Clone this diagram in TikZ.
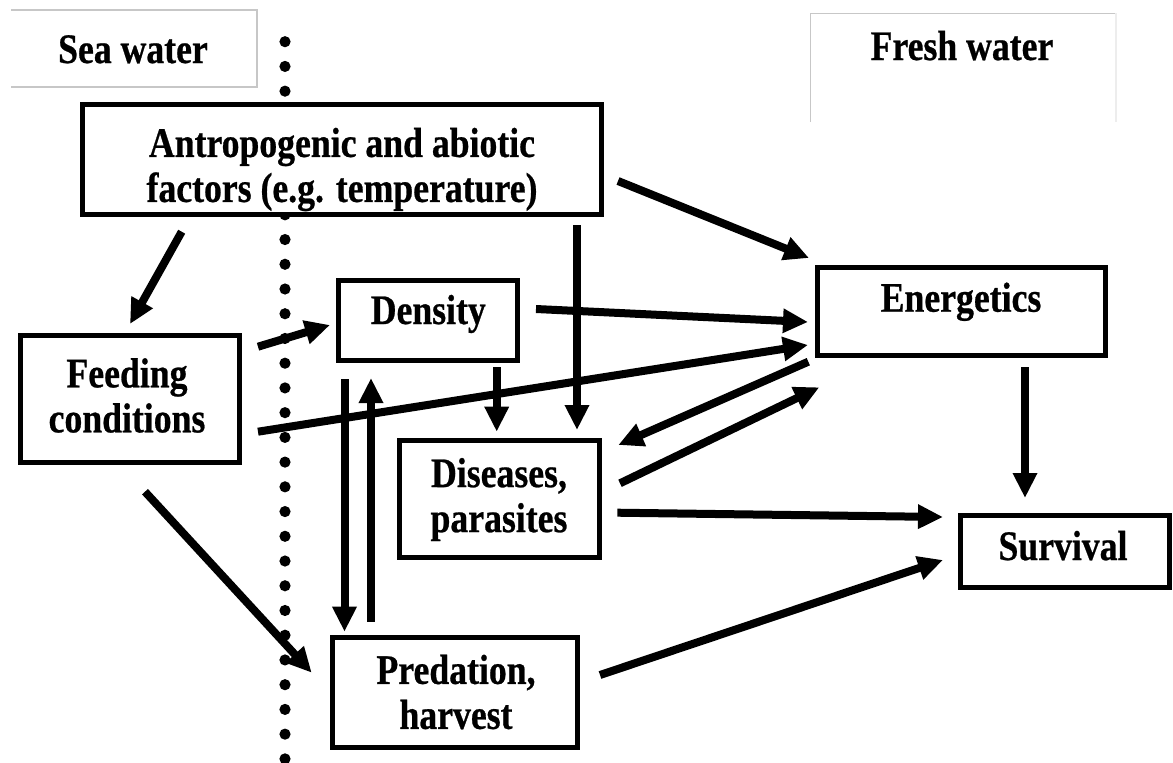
\documentclass[tikz,border=0pt]{standalone}
\usepackage{fontspec}
\setmainfont{Liberation Serif}[FakeStretch=0.85, BoldFeatures={FakeBold=0.6}]
\usetikzlibrary{arrows.meta}
\begin{document}
\begin{tikzpicture}[x=1pt,y=-1pt,
  box/.style={draw, line width=5pt, fill=white, inner sep=0pt},
  lbl/.style={font=\fontsize{42}{45}\selectfont\bfseries, align=center, inner sep=0pt},
  arr/.style={line width=8pt, -{Triangle[length=25pt,width=23pt]}},
  frame/.style={draw=black!22, line width=1.3pt}]
\useasboundingbox (0,0) rectangle (1173,763);
\fill[white] (0,0) rectangle (1173,763);

% dotted boundary between the two habitats
\foreach \k in {0,...,29} \fill (285,{41.7+24.73*\k}) circle (5.6pt);

% habitat headings
\draw[frame] (11,10) -- (257,10) -- (257,87) -- (11,87);
\draw[frame] (810.7,122) -- (810.7,13.3) -- (1116,13.3);
\draw[draw=black!7, line width=1.3pt] (1116,13.3) -- (1116,122);
\node[lbl, anchor=base] (sea) at (133,63) {Sea water};
\node[lbl, anchor=base] (fresh) at (962,60) {Fresh water};

% boxes
\node[box, minimum width=519pt, minimum height=110pt] (antbox) at (342,159.5) {};
\node[box, minimum width=179pt, minimum height=80pt] (denbox) at (428,320.4) {};
\node[box, minimum width=288pt, minimum height=88pt] (enbox) at (961.5,311.5) {};
\node[box, minimum width=219pt, minimum height=127pt] (feedbox) at (129.5,399) {};
\node[box, minimum width=200pt, minimum height=117pt] (disbox) at (499.2,499) {};
\node[box, minimum width=209pt, minimum height=72pt] (survbox) at (1065,551.5) {};
\node[box, minimum width=245pt, minimum height=110pt] (predbox) at (455,692.5) {};

% box texts
\node[lbl] (ant) at (342,169.5) {Antropogenic and abiotic\\factors (e.g. temperature)};
\node[lbl, anchor=base] (den) at (428.3,324) {Density};
\node[lbl, anchor=base] (en) at (961,311.7) {Energetics};
\node[lbl] (feed) at (127,395.5) {Feeding\\conditions};
\node[lbl] (dis) at (499,499.5) {Diseases,\\parasites};
\node[lbl, anchor=base] (surv) at (1063,560) {Survival};
\node[lbl] (pred) at (456,692) {Predation,\\harvest};

% arrow end points
\coordinate (antFa) at (181.7,231.7);  \coordinate (antFb) at (130,324);
\coordinate (antEa) at (618,181);      \coordinate (antEb) at (809,258);
\coordinate (antDa) at (577,225);      \coordinate (antDb) at (577,430);
\coordinate (feDa)  at (258,346.7);    \coordinate (feDb)  at (330,325);
\coordinate (deEa)  at (536,309);      \coordinate (deEb)  at (808,322);
\coordinate (feEa)  at (258,431.7);    \coordinate (feEb)  at (808,345);
\coordinate (deDa)  at (496.7,367);    \coordinate (deDb)  at (496.7,431.7);
\coordinate (dePa)  at (344.5,379);    \coordinate (dePb)  at (344.5,631.7);
\coordinate (prDa)  at (371,621.7);    \coordinate (prDb)  at (371,378);
\coordinate (enDa)  at (808.3,361.7);  \coordinate (enDb)  at (618.3,445);
\coordinate (diEa)  at (620,483.3);    \coordinate (diEb)  at (819.3,387.3);
\coordinate (diSa)  at (617.3,512.7);  \coordinate (diSb)  at (943,517);
\coordinate (enSa)  at (1025,367);     \coordinate (enSb)  at (1025,498);
\coordinate (prSa)  at (600,675);      \coordinate (prSb)  at (943,560);
\coordinate (fePa)  at (145,491.7);    \coordinate (fePb)  at (311.7,672.7);

% connectors
\draw[arr] (antFa) -- (antFb);
\draw[arr] (antEa) -- (antEb);
\draw[arr] (antDa) -- (antDb);
\draw[arr] (feDa) -- (feDb);
\draw[arr] (deEa) -- (deEb);
\draw[arr] (feEa) -- (feEb);
\draw[arr] (deDa) -- (deDb);
\draw[arr] (dePa) -- (dePb);
\draw[arr] (prDa) -- (prDb);
\draw[arr] (enDa) -- (enDb);
\draw[arr] (diEa) -- (diEb);
\draw[arr] (diSa) -- (diSb);
\draw[arr] (enSa) -- (enSb);
\draw[arr] (prSa) -- (prSb);
\draw[arr] (fePa) -- (fePb);
\end{tikzpicture}
\end{document}
